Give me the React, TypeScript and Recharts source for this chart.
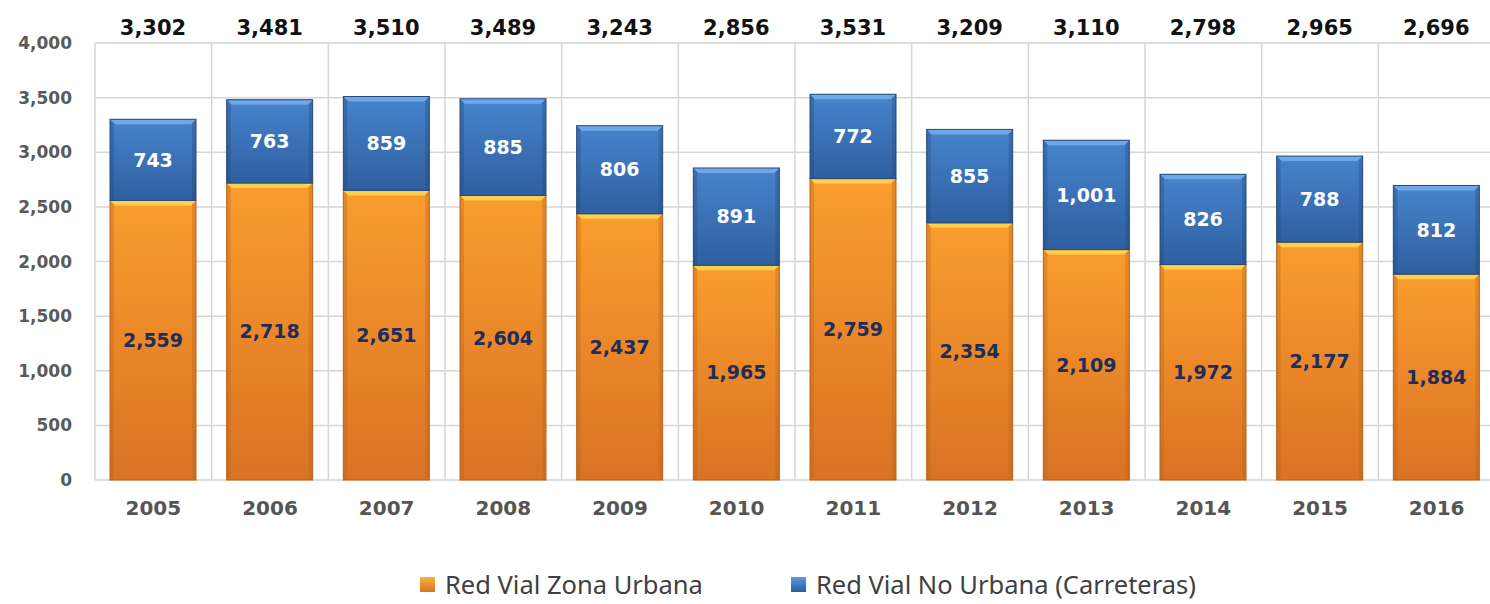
import { BarChart, Bar, XAxis, YAxis, CartesianGrid, Legend, LabelList } from 'recharts';

const years = ['2005', '2006', '2007', '2008', '2009', '2010', '2011', '2012', '2013', '2014', '2015', '2016'];
const urbana = [2559, 2718, 2651, 2604, 2437, 1965, 2759, 2354, 2109, 1972, 2177, 1884];
const noUrbana = [743, 763, 859, 885, 806, 891, 772, 855, 1001, 826, 788, 812];
const yTicks = [0, 500, 1000, 1500, 2000, 2500, 3000, 3500, 4000];
const minorTicks = Array.from({ length: 41 }, (_, i) => i * 100);

const data = years.map((year, i) => ({
  year,
  urbana: urbana[i],
  noUrbana: noUrbana[i],
  total: urbana[i] + noUrbana[i],
}));

const fmt = (v: number) => v.toLocaleString('en-US');
const FONT = '"DejaVu Sans", Verdana, sans-serif';

function GlossyBar(props: any) {
  const { x, y, width, height, grad, top, edge } = props;
  if (!height || height <= 0) return null;
  const b = 5;
  return (
    <g>
      <rect x={x} y={y} width={width} height={height} fill={`url(#${grad})`} />
      <rect x={x} y={y} width={4} height={height} fill={edge} opacity={0.35} />
      <rect x={x + width - 4} y={y} width={4} height={height} fill={edge} opacity={0.35} />
      <polygon
        points={`${x},${y} ${x + width},${y} ${x + width - b},${y + b} ${x + b},${y + b}`}
        fill={top}
      />
      <rect x={x} y={y} width={width} height={height} fill="none" stroke={edge} strokeWidth={1} />
    </g>
  );
}

function TotalLabel(props: any) {
  const { x, width, value } = props;
  return (
    <text x={x + width / 2} y={35} textAnchor="middle" fontFamily={FONT} fontWeight="bold" fontSize={21} fill="#111">
      {fmt(value)}
    </text>
  );
}

function LegendBox() {
  const items = [
    { label: 'Red Vial Zona Urbana', grad: 'linear-gradient(#FBB040, #D9711F)' },
    { label: 'Red Vial No Urbana (Carreteras)', grad: 'linear-gradient(#5C9BE3, #2B5C9C)' },
  ];
  return (
    <div style={{ display: 'flex', paddingLeft: 420, gap: 88, height: 36, alignItems: 'center' }}>
      {items.map((it) => (
        <div key={it.label} style={{ display: 'flex', alignItems: 'center' }}>
          <span style={{ width: 15, height: 15, background: it.grad, display: 'inline-block', marginRight: 10 }} />
          <span style={{ fontFamily: '"Noto Sans", sans-serif', fontSize: 25.5, lineHeight: '36px', color: '#404040' }}>
            {it.label}
          </span>
        </div>
      ))}
    </div>
  );
}

export default function App() {
  return (
    <div style={{ position: 'absolute', left: 0, top: 0, width: 1490, height: 604, overflow: 'hidden', background: '#fff' }}>
      <BarChart
        width={1500}
        height={604}
        data={data}
        barSize={86}
        margin={{ top: 43, right: 5, left: 0, bottom: 48 }}
      >
        <defs>
          <linearGradient id="orangeGrad" x1="0" y1="0" x2="0" y2="1">
            <stop offset="0%" stopColor="#FA9D2E" />
            <stop offset="100%" stopColor="#DA7224" />
          </linearGradient>
          <linearGradient id="blueGrad" x1="0" y1="0" x2="0" y2="1">
            <stop offset="0%" stopColor="#4684CD" />
            <stop offset="100%" stopColor="#2F5F9F" />
          </linearGradient>
        </defs>
        <YAxis yAxisId="minor" hide domain={[0, 4000]} ticks={minorTicks} />
        <CartesianGrid yAxisId="minor" vertical={false} stroke="#EDEDED" strokeWidth={1} />
        <CartesianGrid
          horizontal
          vertical
          stroke="#D6D6D6"
          strokeWidth={1.5}
          verticalCoordinatesGenerator={({ offset }: any) =>
            Array.from({ length: years.length + 1 }, (_, i) => offset.left + (i * offset.width) / years.length)
          }
        />
        <XAxis
          dataKey="year"
          axisLine={false}
          tickLine={false}
          height={40}
          tickMargin={15}
          tick={{ fontFamily: FONT, fontWeight: 'bold', fontSize: 20, fill: '#555' }}
        />
        <YAxis
          domain={[0, 4000]}
          ticks={yTicks}
          width={95}
          axisLine={false}
          tickLine={false}
          tickMargin={17}
          tickFormatter={fmt}
          tick={{ fontFamily: FONT, fontWeight: 'bold', fontSize: 17, fill: '#5A5A5A' }}
        />
        <Legend
          verticalAlign="bottom"
          content={() => <LegendBox />}
          wrapperStyle={{ left: 0, top: 566, bottom: 'auto', width: 1500 }}
        />
        <Bar
          dataKey="urbana"
          name="Red Vial Zona Urbana"
          stackId="a"
          isAnimationActive={false}
          shape={(p: any) => <GlossyBar {...p} grad="orangeGrad" top="#FFCF4D" edge="#B8631C" />}
        >
          <LabelList
            dataKey="urbana"
            position="center"
            formatter={(v: any) => fmt(v)}
            style={{ fontFamily: FONT, fontWeight: 'bold', fontSize: 19, fill: '#1F2D5A' }}
          />
        </Bar>
        <Bar
          dataKey="noUrbana"
          name="Red Vial No Urbana (Carreteras)"
          stackId="a"
          isAnimationActive={false}
          shape={(p: any) => <GlossyBar {...p} grad="blueGrad" top="#6FA8E8" edge="#24497C" />}
        >
          <LabelList
            dataKey="noUrbana"
            position="center"
            formatter={(v: any) => fmt(v)}
            style={{ fontFamily: FONT, fontWeight: 'bold', fontSize: 19, fill: '#FFFFFF' }}
          />
          <LabelList dataKey="total" content={<TotalLabel />} />
        </Bar>
      </BarChart>
    </div>
  );
}
